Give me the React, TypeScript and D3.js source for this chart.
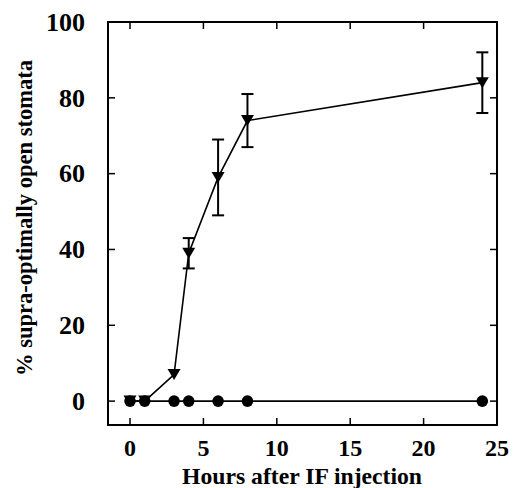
import React from "react";
import * as d3 from "d3";

const hours = [0, 1, 3, 4, 6, 8, 24];
const ifValues = [0, 0, 7, 39, 59, 74, 84];
const ifErrors = [0, 0, 0, 4, 10, 7, 8];
const controlValues = [0, 0, 0, 0, 0, 0, 0];
const xTicks = [0, 5, 10, 15, 20, 25];
const yTicks = [0, 20, 40, 60, 80, 100];

const W = 513, H = 488;
const L = 108, R = 497, T = 22, B = 425;
const FONT = "Liberation Serif, Times New Roman, DejaVu Serif, serif";

export default function App() {
  const x = d3.scaleLinear().domain([-1.5, 25]).range([L, R]);
  const y = d3.scaleLinear().domain([-6.3, 100]).range([B, T]);
  const line = d3.line<[number, number]>().x(d => x(d[0])).y(d => y(d[1]));
  const ifPts: [number, number][] = hours.map((h, i) => [h, ifValues[i]]);
  const ctlPts: [number, number][] = hours.map((h, i) => [h, controlValues[i]]);
  const tri = (cx: number, cy: number) => {
    const w = 6.5, h = 11;
    return `M${cx - w},${cy - h / 2}L${cx + w},${cy - h / 2}L${cx},${cy + h / 2}Z`;
  };
  const tickLen = 7;
  const txt = { fontFamily: FONT, fontWeight: 700 as const };
  return (
    <svg width={W} height={H} style={{ position: "absolute", left: 0, top: 0, background: "#fff" }}>
      <rect x={L} y={T} width={R - L} height={B - T} fill="none" stroke="#000" strokeWidth={2} />
      {yTicks.map(t => (
        <g key={"y" + t}>
          <line x1={L} x2={L + tickLen} y1={y(t)} y2={y(t)} stroke="#000" strokeWidth={1.5} />
          <line x1={R} x2={R - tickLen} y1={y(t)} y2={y(t)} stroke="#000" strokeWidth={1.5} />
          <text x={85} y={y(t)} dy="0.34em" textAnchor="end" style={{ ...txt, fontSize: 26 }}>{t}</text>
        </g>
      ))}
      {xTicks.map(t => (
        <g key={"x" + t}>
          <line x1={x(t)} x2={x(t)} y1={B} y2={B - tickLen} stroke="#000" strokeWidth={1.5} />
          <line x1={x(t)} x2={x(t)} y1={T} y2={T + tickLen} stroke="#000" strokeWidth={1.5} />
          <text x={x(t)} y={456} textAnchor="middle" style={{ ...txt, fontSize: 24 }}>{t}</text>
        </g>
      ))}
      <text x={302} y={484} textAnchor="middle" textLength={240} lengthAdjust="spacingAndGlyphs" style={{ ...txt, fontSize: 23 }}>Hours after IF injection</text>
      <text transform={`translate(32,218) rotate(-90)`} textAnchor="middle" textLength={316} lengthAdjust="spacingAndGlyphs" style={{ ...txt, fontSize: 22.5 }}>% supra-optimally open stomata</text>
      <path d={line(ctlPts) || ""} fill="none" stroke="#000" strokeWidth={1.6} />
      <path d={line(ifPts) || ""} fill="none" stroke="#000" strokeWidth={1.6} />
      {hours.map((h, i) => ifErrors[i] > 0 ? (
        <g key={"e" + i}>
          <line x1={x(h)} x2={x(h)} y1={y(ifValues[i] - ifErrors[i])} y2={y(ifValues[i] + ifErrors[i])} stroke="#000" strokeWidth={2} />
          <line x1={x(h) - 6} x2={x(h) + 6} y1={y(ifValues[i] + ifErrors[i])} y2={y(ifValues[i] + ifErrors[i])} stroke="#000" strokeWidth={2} />
          <line x1={x(h) - 6} x2={x(h) + 6} y1={y(ifValues[i] - ifErrors[i])} y2={y(ifValues[i] - ifErrors[i])} stroke="#000" strokeWidth={2} />
        </g>
      ) : null)}
      {hours.map((h, i) => (
        <circle key={"c" + i} cx={x(h)} cy={y(controlValues[i])} r={5.8} fill="#000" />
      ))}
      {hours.map((h, i) => (
        <path key={"t" + i} d={tri(x(h), y(ifValues[i]))} fill="#000" />
      ))}
    </svg>
  );
}
